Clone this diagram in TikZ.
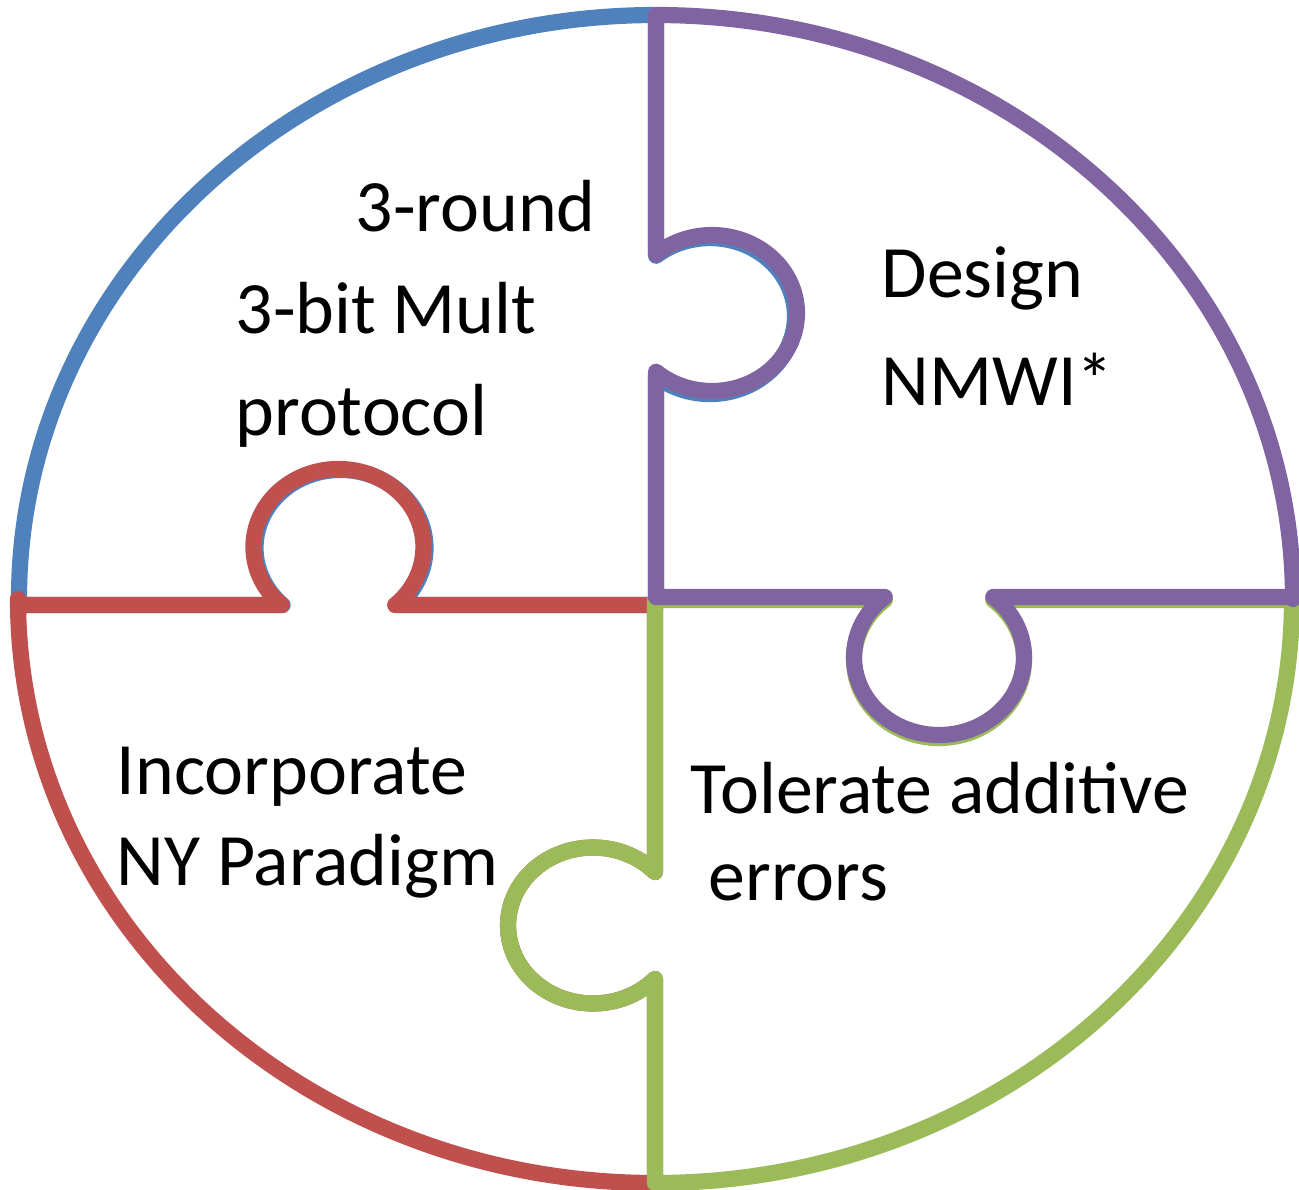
\documentclass[tikz,border=0pt]{standalone}
\usepackage{fontspec}
\setmainfont{Carlito}
\usepackage{xcolor}
\usepackage{tikz}

\definecolor{pzblue}{HTML}{4F81BD}
\definecolor{pzred}{HTML}{C0504D}
\definecolor{pzgreen}{HTML}{9BBB59}
\definecolor{pzpurple}{HTML}{8064A2}

\begin{document}
\begin{tikzpicture}[
    x=0.01cm, y=-0.01cm,
    piece/.style={line width=4.6pt, line join=round, line cap=round},
    rim/.style={x radius=637, y radius=584},
    knob/.style={x radius=85, y radius=78},
    label/.style={anchor=base west, align=left, inner sep=0pt}
]
\useasboundingbox (0,0) rectangle (1299,1190);

% Pieces (blue, red, green, purple on top)
\draw[piece, draw=pzblue] (19,599) arc[rim, start angle=180, end angle=270]
    -- (656,255.8) arc[knob, start angle=-129.4, end angle=129.4] -- (656,605)
    -- (398.5,605) arc[knob, start angle=47.0, end angle=-227.0] -- (19,605) -- cycle;

\draw[piece, draw=pzred] (19,605) -- (281.7,605) arc[knob, start angle=131.9, end angle=408.1]
    -- (655,605) -- (655,872.1) arc[knob, start angle=-43.2, end angle=-316.8]
    -- (655,1183) arc[rim, start angle=90, end angle=180] -- cycle;

\draw[piece, draw=pzgreen] (1293,600) -- (993.3,600) arc[knob, start angle=-50.3, end angle=230.3]
    -- (655,600) -- (655,872.1) arc[knob, start angle=-43.2, end angle=-316.8]
    -- (655,1183) arc[rim, start angle=90, end angle=0] -- cycle;

\draw[piece, draw=pzpurple] (656,15) arc[rim, start angle=270, end angle=360]
    -- (1293,597) -- (993.3,597) arc[knob, start angle=-50.3, end angle=230.3]
    -- (656,597) -- (656,371.7) arc[knob, start angle=131.2, end angle=-131.2] -- cycle;

% Labels (anchored at the baseline of the last line)
\node[label, font=\fontsize{21}{29}\selectfont] (mult) at (235,435)
    {\hspace*{1.2cm}3-round\\3-bit Mult\\protocol};
\node[label, font=\fontsize{21}{30.7}\selectfont] (nmwi) at (881,405) {Design\\NMWI*};
\node[label, font=\fontsize{21}{25.6}\selectfont] (ny) at (116,885) {Incorporate\\NY Paradigm};
\node[label, font=\fontsize{21}{24.5}\selectfont] (errs) at (690,900)
    {Tolerate additive\\\hspace*{0.18cm}errors};

\end{tikzpicture}
\end{document}
